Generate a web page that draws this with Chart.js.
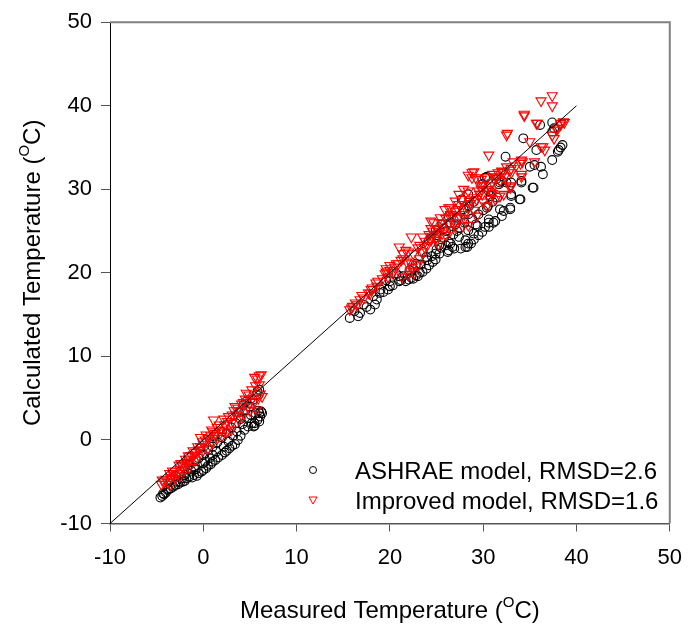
<!DOCTYPE html>
<html><head><meta charset="utf-8">
<script src="https://cdn.jsdelivr.net/npm/chart.js@4/dist/chart.umd.min.js"></script>
<style>html,body{margin:0;padding:0;background:#fff;}</style>
</head><body>
<canvas id="c" width="695" height="627"></canvas>
<script>
const xTicks = [-10, 0, 10, 20, 30, 40, 50];
const yTicks = [-10, 0, 10, 20, 30, 40, 50];
const xTitle = ["Measured Temperature (", "O", "C)"];
const yTitle = ["Calculated Temperature (", "O", "C)"];
const seriesNames = ["ASHRAE model, RMSD=2.6", "Improved model, RMSD=1.6"];

// reference line y = x
const diagX = [-10, 40];
const diagY = [-10, 40];

// ASHRAE model (circles)
const ashraeX = [
 -4.6,-4.4,-4.2,-4.0,-3.8,-3.5,-3.2,-3.0,-2.7,-2.5,-2.2,-2.0,-1.8,-1.5,-1.2,-1.0,-0.7,-0.5,-0.2,0.0,
 0.3,0.5,0.8,1.0,1.3,1.6,2.0,2.3,2.5,2.8,3.1,3.4,3.7,4.0,4.4,4.8,5.2,5.5,5.8,6.0,6.1,5.9,
 -3.5,-3.0,-2.5,-2.0,-1.5,-1.0,-0.5,0.0,0.5,1.0,1.5,2.0,2.5,3.0,3.5,4.0,4.5,4.6,5.0,5.3,5.7,6.0,5.8,4.3,3.8,2.0,-0.3,-1.6,1.2,6.3,5.5,
 -4.3,-3.7,-2.9,-2.3,-1.3,-0.8,0.2,0.7,1.4,2.2,2.7,3.2,3.6,4.2,4.7,5.1,5.6,6.2,5.4,6.0,-2.0,-1.0,0.0,1.0,
 15.7,16.6,16.8,17.9,18.4,18.6,19.3,20.3,21.0,21.2,21.7,22.3,22.8,23.2,23.9,24.2,24.6,24.9,16.2,17.2,18.2,18.9,19.6,20.0,20.7,21.0,21.4,22.1,22.8,23.9,
 24.4,24.2,24.9,25.3,25.3,24.9,25.6,25.8,26.2,26.3,26.5,26.3,26.7,26.9,27.6,28.1,28.1,28.3,28.4,28.7,29.0,29.0,29.5,29.9,29.4,30.2,30.6,30.6,30.6,31.1,
 31.3,32.0,31.8,32.2,32.9,32.9,33.0,33.9,34.0,34.1,35.3,35.4,34.1,33.0,26.3,26.5,27.2,27.4,27.7,27.9,28.4,28.4,28.4,29.2,29.9,30.4,30.4,30.2,30.6,30.8,
 30.9,31.7,32.0,31.8,32.5,33.0,31.4,32.4,34.3,35.0,35.5,35.7,36.1,36.2,36.4,37.4,37.4,37.4,38.0,38.1,38.3,38.5,37.6,
 22.0,22.5,23.0,23.5,22.5,23.3,24.0,24.5,25.0,25.5,26.0,25.8,26.8,27.2,27.5,28.0,28.8,29.5,30.0,30.5,31.0,31.5,29.0,28.5,27.0,26.0,25.0,23.5,20.0,19.0,17.5,19.8
];
const ashraeY = [
 -6.9,-6.7,-6.5,-6.3,-6.0,-5.8,-5.6,-5.4,-5.3,-5.1,-5.0,-4.9,-4.6,-4.4,-4.5,-4.2,-4.3,-4.0,-3.8,-3.6,
 -3.4,-3.1,-2.9,-2.6,-2.4,-2.1,-1.8,-1.5,-1.3,-1.0,-0.7,-0.5,0.0,0.5,1.2,1.6,2.0,2.0,2.4,3.2,2.8,3.5,
 -4.8,-4.3,-3.8,-3.4,-3.0,-2.6,-2.2,-1.8,-1.2,-0.8,-0.3,0.3,0.8,1.5,2.0,2.5,3.5,4.6,4.0,4.8,5.4,6.0,5.8,4.2,3.3,1.0,-1.0,-2.0,0.4,3.2,1.7,
 -6.4,-5.9,-5.0,-4.6,-3.7,-3.5,-2.6,-2.2,-1.4,-0.8,-0.2,0.5,1.0,1.9,2.6,3.0,3.2,3.4,1.6,2.2,-4.2,-3.3,-2.8,-1.8,
 14.6,14.8,15.2,15.6,16.2,16.8,17.7,18.5,19.0,19.1,19.0,19.4,19.7,20.0,20.5,20.9,21.3,21.6,15.4,16.2,17.2,17.6,19.1,18.4,19.9,19.6,19.6,20.3,21.1,21.9,
 24.1,23.9,22.3,22.3,23.3,25.1,25.8,25.3,22.5,22.7,23.5,23.7,23.1,22.9,22.9,23.1,23.9,23.1,23.5,23.5,24.0,24.7,24.5,24.9,25.6,25.5,25.5,26.0,26.4,26.0,
 26.2,26.8,27.6,27.4,27.6,27.8,29.2,28.8,28.8,30.8,30.2,30.2,31.0,29.4,26.8,26.0,26.6,24.3,28.8,27.6,27.0,25.1,29.4,25.8,30.6,27.8,31.5,31.4,29.8,29.2,
 29.6,30.6,31.0,30.8,30.8,30.8,31.2,33.9,36.1,32.7,32.9,34.7,37.7,32.7,31.8,33.5,36.9,38.0,34.5,34.7,35.0,35.3,37.3,
 19.2,19.3,19.6,20.1,20.5,21.0,21.5,22.0,22.8,23.0,23.3,24.2,24.6,25.0,25.4,26.0,26.5,27.0,27.5,28.0,28.5,29.0,28.5,28.0,25.8,25.0,24.5,22.5,19.0,18.0,15.9,18.0
];

// Improved model (down triangles)
const improvedX = [
 -4.5,-4.2,-4.0,-3.8,-3.5,-3.2,-3.0,-2.8,-2.5,-2.2,-2.0,-1.8,-1.5,-1.2,-1.0,-0.8,-0.5,-0.3,0.0,0.2,-0.3,0.5,0.8,1.0,1.1,
 1.5,2.0,2.3,2.7,3.0,3.4,3.5,4.0,4.3,4.6,5.0,5.3,5.5,5.8,6.0,6.2,5.7,6.1,5.9,6.3,-1.5,-2.5,-3.5,0.5,1.5,2.5,3.8,-0.8,4.8,5.5,
 -4.4,-3.6,-3.3,-2.6,-2.4,-1.9,-1.6,-1.1,-0.6,-0.1,0.3,0.9,1.3,1.7,2.2,2.6,3.1,3.3,3.7,4.1,4.5,4.9,5.2,5.6,6.0,0.0,1.0,2.0,3.0,4.2,5.0,-2.0,-3.0,
 15.7,15.9,16.3,16.5,16.8,17.2,17.7,17.9,18.1,18.6,18.7,19.5,19.6,19.6,20.0,20.0,20.7,20.9,21.0,21.3,21.4,21.4,21.7,22.0,22.3,22.3,22.4,22.0,22.6,
 23.2,23.2,23.5,23.5,23.7,24.0,24.2,24.4,24.4,24.4,24.6,24.7,24.9,25.0,25.3,25.4,25.6,25.6,25.9,26.3,26.3,26.5,26.5,26.5,26.5,27.0,27.0,27.0,27.4,
 27.4,27.6,27.7,27.8,27.9,27.9,28.4,28.4,28.4,28.4,28.5,28.8,28.8,29.0,29.2,29.3,29.3,29.6,29.7,29.8,29.8,29.9,30.4,30.4,30.6,30.7,30.7,30.9,31.3,
 31.4,31.4,31.6,31.8,32.0,32.0,32.2,32.2,32.5,32.5,32.6,32.9,32.9,32.9,33.0,33.0,33.0,33.2,34.0,34.1,34.1,34.1,34.2,34.4,34.4,35.0,35.5,35.7,35.8,
 36.2,36.2,36.4,36.6,37.4,37.4,37.4,37.6,37.9,37.9,38.3,38.3,38.6,38.7,
 16.0,17.0,18.0,18.5,19.2,19.8,20.3,20.5,21.2,21.8,22.5,23.0,23.8,24.5,25.0,25.5,26.0,26.8,27.3,28.0,28.6,29.0,29.5,30.0,30.5,31.0,31.0,31.8,32.3,33.5,
 26.0,27.0,28.0,29.0,30.0,31.0,25.2,23.0,22.2
];
const improvedY = [
 -5.3,-5.0,-4.7,-5.1,-4.5,-4.2,-3.8,-4.0,-3.5,-3.2,-3.0,-2.7,-2.5,-2.0,-1.8,-1.5,-1.2,-0.8,-0.5,0.0,0.3,0.2,0.5,1.0,2.4,
 1.5,1.2,1.8,2.8,2.0,4.0,3.0,3.5,4.5,5.6,4.5,5.0,7.5,7.3,7.7,7.8,3.6,5.5,5.0,5.2,-3.3,-4.3,-5.3,-1.0,0.2,1.0,2.5,-2.4,4.0,4.6,
 -4.8,-4.0,-3.7,-3.0,-2.8,-2.3,-1.9,-1.3,-0.8,-0.2,0.6,1.2,0.8,1.8,2.5,2.2,3.0,3.5,3.8,4.3,4.9,5.4,6.0,6.5,6.6,-1.2,-0.3,0.5,1.2,2.8,3.5,-3.6,-4.6,
 15.6,15.8,16.4,16.2,16.8,17.0,17.6,17.6,18.2,18.4,19.0,19.9,20.1,20.5,20.3,20.9,21.1,21.1,23.1,19.5,21.7,22.3,22.7,22.5,21.1,24.3,20.7,19.8,20.0,
 21.7,23.3,22.5,24.3,23.1,23.3,24.6,23.9,25.3,26.2,25.0,26.0,24.1,23.9,24.9,26.6,25.5,24.7,27.6,25.8,27.8,25.1,26.6,27.0,27.8,26.0,27.4,28.6,28.2,
 29.4,26.6,28.8,25.6,28.2,30.0,25.7,27.8,29.8,31.7,28.6,31.4,32.0,32.1,31.4,26.8,28.8,29.4,30.4,30.0,31.2,29.4,28.0,31.4,34.1,28.8,30.4,29.8,28.8,
 31.4,31.5,32.0,29.2,32.1,32.2,29.4,32.1,32.7,36.5,36.7,30.2,30.4,32.3,32.0,32.5,30.4,33.3,33.1,31.5,31.8,33.5,33.3,38.8,39.0,35.7,33.3,37.9,37.9,
 35.1,40.6,35.1,34.7,36.5,40.0,41.2,36.1,37.1,37.3,37.7,37.9,38.1,38.0,
 16.0,17.3,18.0,18.8,19.3,19.5,20.0,20.7,21.5,21.3,22.3,23.0,23.8,24.4,25.3,26.0,26.5,26.8,27.6,27.0,28.3,29.0,29.8,30.5,30.0,30.8,31.8,31.0,31.5,32.8,
 24.5,25.5,26.5,27.5,28.5,29.5,23.4,21.0,20.2
];

const toPts = (xs, ys) => xs.map((x, i) => ({x, y: ys[i]}));
const FONT = "'Liberation Sans', Arial, sans-serif";

function drawSupText(ctx, parts, cx, baseY, size, supSize, rise) {
  ctx.font = size + 'px ' + FONT;
  const w1 = ctx.measureText(parts[0]).width;
  const w3 = ctx.measureText(parts[2]).width;
  ctx.font = supSize + 'px ' + FONT;
  const w2 = ctx.measureText(parts[1]).width;
  let x = cx - (w1 + w2 + w3) / 2;
  ctx.textAlign = 'left';
  ctx.textBaseline = 'alphabetic';
  ctx.font = size + 'px ' + FONT;
  ctx.fillText(parts[0], x, baseY); x += w1;
  ctx.font = supSize + 'px ' + FONT;
  ctx.fillText(parts[1], x, baseY - rise); x += w2;
  ctx.font = size + 'px ' + FONT;
  ctx.fillText(parts[2], x, baseY);
}

const deco = {
  id: 'deco',
  afterDraw(chart) {
    const {ctx, chartArea: a} = chart;
    ctx.save();
    ctx.strokeStyle = '#808080';
    ctx.lineWidth = 2;
    ctx.beginPath();
    ctx.moveTo(a.left, a.top);
    ctx.lineTo(a.right, a.top);
    ctx.lineTo(a.right, a.bottom);
    ctx.stroke();

    // legend
    ctx.fillStyle = '#000';
    ctx.lineWidth = 1;
    ctx.strokeStyle = '#000';
    ctx.beginPath();
    ctx.arc(313, 470, 3.5, 0, Math.PI * 2);
    ctx.stroke();
    ctx.strokeStyle = '#ff0000';
    ctx.beginPath();
    ctx.moveTo(309, 497); ctx.lineTo(317, 497); ctx.lineTo(313, 504); ctx.closePath();
    ctx.stroke();
    ctx.font = '24px ' + FONT;
    ctx.textAlign = 'left';
    ctx.textBaseline = 'alphabetic';
    ctx.fillText(seriesNames[0], 355, 478.5);
    ctx.fillText(seriesNames[1], 355, 508.5);

    // axis titles
    const cx = (a.left + a.right) / 2;
    const cy = (a.top + a.bottom) / 2;
    drawSupText(ctx, xTitle, cx, 617.5, 24, 15, 11);
    ctx.save();
    ctx.translate(40, cy);
    ctx.rotate(-Math.PI / 2);
    drawSupText(ctx, yTitle, 0, 0, 24, 15, 11);
    ctx.restore();
    ctx.restore();
  }
};

new Chart(document.getElementById('c'), {
  type: 'scatter',
  data: {
    datasets: [
      {
        label: seriesNames[0],
        data: toPts(ashraeX, ashraeY),
        pointStyle: 'circle',
        pointRadius: 4.4,
        borderColor: '#000',
        backgroundColor: 'rgba(0,0,0,0)',
        borderWidth: 1.1,
        order: 2
      },
      {
        label: seriesNames[1],
        data: toPts(improvedX, improvedY),
        pointStyle: 'triangle',
        rotation: 180,
        pointRadius: 5.8,
        borderColor: '#ff0000',
        backgroundColor: 'rgba(0,0,0,0)',
        borderWidth: 1.1,
        order: 1
      },
      {
        type: 'line',
        label: 'line',
        data: toPts(diagX, diagY),
        borderColor: '#000',
        borderWidth: 1,
        pointRadius: 0,
        fill: false,
        order: 0
      }
    ]
  },
  options: {
    responsive: false,
    animation: false,
    layout: {padding: {top: 15.5, right: 18, left: 0, bottom: 0}},
    plugins: {legend: {display: false}, tooltip: {enabled: false}},
    scales: {
      x: {
        type: 'linear', min: -10, max: 50,
        afterBuildTicks: s => { s.ticks = xTicks.map(v => ({value: v})); },
        afterFit: s => { s.height = 103.5; },
        grid: {display: true, drawOnChartArea: false, drawTicks: true, tickLength: 8, tickColor: '#555', tickWidth: 1},
        border: {display: true, color: '#555', width: 1.5},
        ticks: {color: '#000', font: {family: FONT, size: 22}, padding: 13, maxRotation: 0}
      },
      y: {
        type: 'linear', min: -10, max: 50,
        afterBuildTicks: s => { s.ticks = yTicks.map(v => ({value: v})); },
        afterFit: s => { s.width = 110; },
        grid: {display: true, drawOnChartArea: false, drawTicks: true, tickLength: 9, tickColor: '#555', tickWidth: 1},
        border: {display: true, color: '#000', width: 1},
        ticks: {color: '#000', font: {family: FONT, size: 22}, padding: 9}
      }
    }
  },
  plugins: [deco]
});
</script>
</body></html>
